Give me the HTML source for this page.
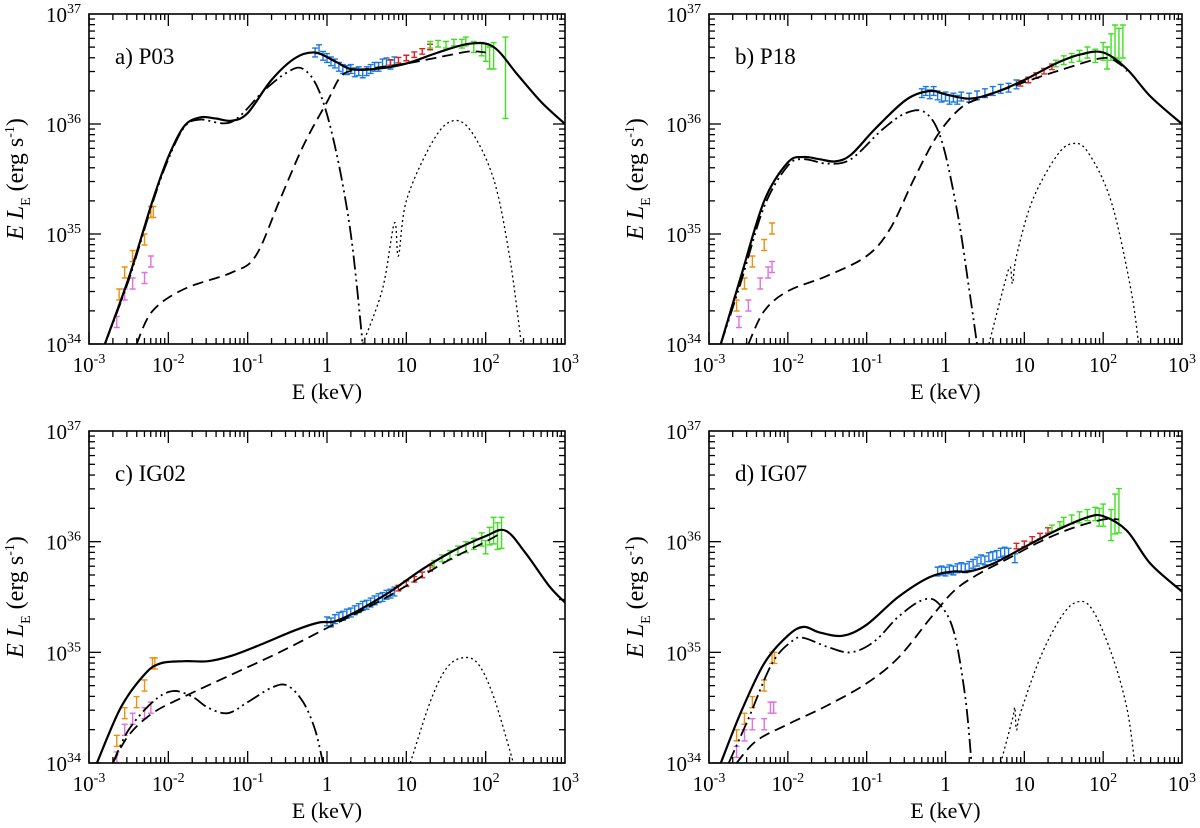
<!DOCTYPE html>
<html><head><meta charset="utf-8">
<style>
html,body{margin:0;padding:0;background:#fff;}
svg{display:block;font-family:"Liberation Serif",serif;}
text{font-family:"Liberation Serif",serif;}
</style></head>
<body>
<svg id="fig" width="1200" height="828" viewBox="0 0 1200 828" font-family="Liberation Serif, serif" xmlns="http://www.w3.org/2000/svg"></svg>
<script>
// ---------- data (log10 E [keV], log10 E L_E [erg/s]) ----------
const panelLabels = ["a) P03","b) P18","c) IG02","d) IG07"];
const xTickExp = [-3,-2,-1,0,1,2,3];
const xTickText = ["10^-3","10^-2","10^-1","1","10","10^2","10^3"];
const yTickExp = [34,35,36,37];

// Panel a
const aTotal = [[-2.8,34],[-2.5,34.6],[-2.2,35.3],[-2,35.7],[-1.8,35.98],[-1.6,36.06],[-1.4,36.05],[-1.2,36.03],[-1,36.1],[-0.7,36.4],[-0.4,36.6],[-0.15,36.65],[0.1,36.57],[0.3,36.5],[0.6,36.5],[1,36.55],[1.4,36.65],[1.8,36.73],[2.1,36.7],[2.4,36.45],[2.7,36.2],[3,36.0]];
const aDisk = [[-2.8,34],[-2.5,34.58],[-2.2,35.28],[-2,35.68],[-1.8,35.97],[-1.6,36.04],[-1.2,36.02],[-0.8,36.3],[-0.5,36.47],[-0.3,36.5],[-0.1,36.3],[0.1,35.8],[0.3,35],[0.45,34]];
const aComp = [[-2.4,34],[-2.2,34.3],[-1.8,34.5],[-1.2,34.65],[-0.9,34.8],[-0.6,35.3],[-0.3,35.8],[0,36.2],[0.2,36.45],[0.5,36.5],[1,36.55],[1.5,36.62],[1.8,36.66],[2,36.65]];
const aRefl = [[0.45,34],[0.7,34.5],[0.85,35.1],[0.9,34.8],[1.0,35.3],[1.3,35.8],[1.55,36.02],[1.8,35.95],[2.1,35.5],[2.3,34.8],[2.45,34]];
const aOrange = [[-2.62,34.45],[-2.55,34.65],[-2.45,34.8],[-2.3,34.95],[-2.22,35.2],[-2.19,35.2]];
const aMagenta = [[-2.65,34.2],[-2.55,34.45],[-2.45,34.55],[-2.3,34.6],[-2.22,34.75]];
const aBlue = [[-0.15,36.65],[-0.1,36.68],[-0.05,36.62],[0,36.6],[0.05,36.57],[0.1,36.55],[0.15,36.52],[0.2,36.5],[0.25,36.49],[0.3,36.5],[0.35,36.47],[0.4,36.48],[0.45,36.46],[0.5,36.48],[0.55,36.5],[0.6,36.52],[0.65,36.52],[0.7,36.55],[0.75,36.56],[0.8,36.54],[0.85,36.57]];
const aRed = [[0.8,36.56],[0.9,36.58],[1.0,36.6],[1.1,36.63],[1.2,36.66],[1.3,36.7]];
const aGreen = [[1.3,36.72],[1.4,36.73],[1.5,36.72],[1.6,36.74],[1.7,36.73],[1.75,36.75],[1.85,36.7],[1.95,36.68],[2.0,36.65],[2.05,36.6],[2.1,36.62],[2.25,36.42]];
const aGreenErr = [0.03,0.03,0.03,0.03,0.04,0.04,0.05,0.06,0.08,0.1,0.12,0.37];

// Panel b
const bTotal = [[-2.85,34],[-2.6,34.6],[-2.3,35.3],[-2.0,35.65],[-1.8,35.7],[-1.6,35.68],[-1.4,35.66],[-1.2,35.72],[-0.9,35.95],[-0.5,36.22],[-0.2,36.3],[0,36.27],[0.3,36.23],[0.6,36.28],[1,36.4],[1.4,36.55],[1.7,36.63],[2,36.65],[2.3,36.5],[2.6,36.25],[3,36.0]];
const bDisk = [[-2.85,34],[-2.6,34.55],[-2.3,35.25],[-2,35.62],[-1.8,35.68],[-1.5,35.64],[-1.2,35.68],[-0.8,35.95],[-0.5,36.1],[-0.25,36.1],[-0.05,35.85],[0.15,35.2],[0.3,34.5],[0.4,34]];
const bComp = [[-2.5,34],[-2.3,34.3],[-2,34.48],[-1.5,34.62],[-1,34.8],[-0.7,35.05],[-0.4,35.5],[-0.1,35.9],[0.2,36.15],[0.5,36.25],[1,36.38],[1.5,36.5],[2,36.6],[2.2,36.55],[2.3,36.48]];
const bRefl = [[0.55,34],[0.75,34.55],[0.82,34.7],[0.85,34.55],[0.9,34.8],[1.1,35.3],[1.4,35.7],[1.6,35.82],[1.8,35.75],[2.1,35.3],[2.35,34.5],[2.45,34]];
const bOrange = [[-2.65,34.35],[-2.55,34.55],[-2.45,34.75],[-2.3,34.9],[-2.2,35.05]];
const bMagenta = [[-2.62,34.2],[-2.5,34.35],[-2.35,34.55],[-2.25,34.65],[-2.2,34.7]];
const bBlue = [[-0.3,36.28],[-0.25,36.3],[-0.2,36.27],[-0.15,36.3],[-0.1,36.26],[-0.05,36.24],[0,36.25],[0.05,36.22],[0.1,36.24],[0.15,36.22],[0.2,36.25],[0.3,36.24],[0.4,36.26],[0.5,36.28],[0.6,36.3],[0.7,36.32],[0.8,36.33],[0.9,36.36]];
const bRed = [[0.95,36.37],[1.05,36.4],[1.15,36.44],[1.25,36.48],[1.35,36.52]];
const bGreen = [[1.4,36.55],[1.5,36.58],[1.6,36.6],[1.7,36.62],[1.8,36.65],[1.9,36.62],[2.0,36.66],[2.05,36.6],[2.1,36.7],[2.15,36.75],[2.2,36.72],[2.25,36.75]];
const bGreenErr = [0.03,0.04,0.04,0.05,0.05,0.06,0.08,0.1,0.12,0.15,0.15,0.15];

// Panel c
const cTotal = [[-2.9,34],[-2.6,34.5],[-2.3,34.8],[-2.1,34.9],[-1.8,34.92],[-1.5,34.92],[-1.2,34.97],[-0.8,35.08],[-0.4,35.2],[-0.1,35.27],[0.1,35.28],[0.4,35.38],[0.8,35.55],[1.2,35.75],[1.6,35.92],[2,36.05],[2.25,36.1],[2.5,35.9],[2.8,35.6],[3,35.45]];
const cDisk = [[-2.7,34],[-2.5,34.3],[-2.2,34.55],[-1.95,34.65],[-1.7,34.6],[-1.5,34.5],[-1.25,34.45],[-1,34.55],[-0.7,34.68],[-0.5,34.7],[-0.3,34.55],[-0.15,34.3],[-0.05,34]];
const cComp = [[-2.7,34],[-2.5,34.25],[-2.2,34.45],[-1.8,34.6],[-1.2,34.8],[-0.6,35],[0,35.22],[0.5,35.4],[1,35.6],[1.5,35.82],[2,36.0],[2.2,36.08]];
const cRefl = [[1.05,34],[1.3,34.55],[1.5,34.85],[1.7,34.95],[1.9,34.9],[2.1,34.6],[2.35,34]];
const cOrange = [[-2.65,34.2],[-2.55,34.45],[-2.4,34.55],[-2.3,34.7],[-2.2,34.9],[-2.17,34.9]];
const cMagenta = [[-2.65,34.05],[-2.55,34.3],[-2.45,34.4],[-2.3,34.45],[-2.22,34.5]];
const cBlue = [[0,35.28],[0.05,35.27],[0.1,35.3],[0.15,35.32],[0.2,35.33],[0.25,35.35],[0.3,35.36],[0.35,35.38],[0.4,35.4],[0.45,35.42],[0.5,35.43],[0.55,35.45],[0.6,35.47],[0.65,35.49],[0.7,35.5],[0.75,35.52],[0.8,35.53],[0.85,35.55]];
const cRed = [[0.9,35.58],[1.0,35.62],[1.1,35.66],[1.2,35.7],[1.3,35.76]];
const cGreen = [[1.35,35.8],[1.45,35.85],[1.55,35.88],[1.65,35.92],[1.75,35.95],[1.85,35.98],[1.95,36.02],[2.0,35.95],[2.05,36.05],[2.1,36.1],[2.15,36.05],[2.2,36.08]];
const cGreenErr = [0.03,0.03,0.04,0.04,0.05,0.05,0.06,0.06,0.08,0.12,0.12,0.14];

// Panel d
const dTotal = [[-2.85,34],[-2.6,34.45],[-2.3,34.9],[-2,35.15],[-1.8,35.23],[-1.6,35.18],[-1.3,35.15],[-1,35.25],[-0.6,35.5],[-0.2,35.68],[0.1,35.73],[0.3,35.73],[0.6,35.8],[1,35.95],[1.4,36.1],[1.8,36.22],[2,36.23],[2.3,36.1],[2.6,35.8],[3,35.55]];
const dDisk = [[-2.75,34],[-2.5,34.4],[-2.2,34.9],[-1.95,35.1],[-1.8,35.13],[-1.5,35.05],[-1.2,35],[-0.9,35.1],[-0.6,35.32],[-0.3,35.47],[-0.1,35.45],[0.1,35.2],[0.25,34.6],[0.33,34]];
const dComp = [[-2.65,34],[-2.4,34.2],[-2,34.35],[-1.5,34.52],[-1,34.72],[-0.6,34.95],[-0.2,35.3],[0.1,35.55],[0.4,35.7],[0.8,35.85],[1.2,36],[1.6,36.12],[2,36.2],[2.2,36.2]];
const dRefl = [[0.7,34],[0.85,34.4],[0.88,34.5],[0.9,34.3],[0.95,34.45],[1.2,34.95],[1.45,35.3],[1.65,35.45],[1.85,35.4],[2.1,35.0],[2.3,34.5],[2.4,34]];
const dOrange = [[-2.65,34.25],[-2.55,34.4],[-2.45,34.55],[-2.3,34.7],[-2.2,34.95],[-2.17,34.95]];
const dMagenta = [[-2.65,34.1],[-2.55,34.25],[-2.45,34.35],[-2.3,34.35],[-2.22,34.5],[-2.18,34.5]];
const dBlue = [[-0.1,35.73],[-0.05,35.74],[0,35.73],[0.05,35.75],[0.1,35.74],[0.15,35.76],[0.2,35.77],[0.25,35.76],[0.3,35.78],[0.35,35.8],[0.4,35.82],[0.45,35.84],[0.5,35.83],[0.55,35.86],[0.6,35.87],[0.65,35.88],[0.7,35.9],[0.75,35.91],[0.8,35.9],[0.88,35.85]];
const dRed = [[0.9,35.96],[1.0,35.98],[1.1,36.02],[1.2,36.05],[1.3,36.1]];
const dGreen = [[1.35,36.12],[1.45,36.15],[1.5,36.18],[1.6,36.2],[1.7,36.22],[1.8,36.24],[1.9,36.25],[1.95,36.22],[2.0,36.24],[2.1,36.15],[2.15,36.25],[2.2,36.28]];
const dGreenErr = [0.03,0.03,0.04,0.04,0.05,0.05,0.06,0.08,0.1,0.14,0.18,0.2];

const panelData = [
 {total:aTotal,disk:aDisk,comp:aComp,refl:aRefl,orange:aOrange,magenta:aMagenta,blue:aBlue,red:aRed,green:aGreen,gerr:aGreenErr},
 {total:bTotal,disk:bDisk,comp:bComp,refl:bRefl,orange:bOrange,magenta:bMagenta,blue:bBlue,red:bRed,green:bGreen,gerr:bGreenErr},
 {total:cTotal,disk:cDisk,comp:cComp,refl:cRefl,orange:cOrange,magenta:cMagenta,blue:cBlue,red:cRed,green:cGreen,gerr:cGreenErr},
 {total:dTotal,disk:dDisk,comp:dComp,refl:dRefl,orange:dOrange,magenta:dMagenta,blue:dBlue,red:dRed,green:dGreen,gerr:dGreenErr}
];

// ---------- layout ----------
const NS = "http://www.w3.org/2000/svg";
const FONT = "Liberation Serif, serif";
const svg = document.getElementById("fig");
const boxes = [{x0:89,x1:565,y0:14,y1:344},{x0:709,x1:1182,y0:14,y1:344},{x0:89,x1:565,y0:431,y1:763},{x0:709,x1:1182,y0:431,y1:763}];

function el(tag, attrs, parent){ const e=document.createElementNS(NS,tag); for(const k in attrs) e.setAttribute(k,attrs[k]); (parent||svg).appendChild(e); return e; }

function smoothPath(pts){
  if(pts.length<2) return "";
  let d="M"+pts[0][0].toFixed(1)+","+pts[0][1].toFixed(1);
  for(let i=0;i<pts.length-1;i++){
    const p0=pts[i-1]||pts[i], p1=pts[i], p2=pts[i+1], p3=pts[i+2]||p2;
    const c1x=p1[0]+(p2[0]-p0[0])/6, c1y=p1[1]+(p2[1]-p0[1])/6;
    const c2x=p2[0]-(p3[0]-p1[0])/6, c2y=p2[1]-(p3[1]-p1[1])/6;
    d+=" C"+c1x.toFixed(1)+","+c1y.toFixed(1)+" "+c2x.toFixed(1)+","+c2y.toFixed(1)+" "+p2[0].toFixed(1)+","+p2[1].toFixed(1);
  }
  return d;
}

function tickLabel(g, x, y, txt, anchor){
  const t=el("text",{x:x,y:y,"font-size":21,"text-anchor":anchor,fill:"#000","font-family":FONT},g);
  const parts=txt.split("^");
  t.appendChild(document.createTextNode(parts[0]));
  if(parts[1]){ const s=el("tspan",{dy:-9,"font-size":14},t); s.textContent=parts[1]; }
  return t;
}

panelData.forEach((P, idx)=>{
  const b=boxes[idx];
  const sx = v => b.x0 + (v+3)/6*(b.x1-b.x0);
  const sy = v => b.y1 - (v-34)/3*(b.y1-b.y0);
  const g=el("g",{});
  
  
  const clipId="clip"+idx;
  const cp=el("clipPath",{id:clipId},g); el("rect",{x:b.x0,y:b.y0,width:b.x1-b.x0,height:b.y1-b.y0},cp);

  const tg=el("g",{stroke:"#000","stroke-width":1.3},g);
  
  
  for(let e=-3;e<3;e++){ for(let m=1;m<10;m++){ const x=sx(e+Math.log10(m)); const L=m===1?12:6;
    el("line",{x1:x,x2:x,y1:b.y1,y2:b.y1-L},tg); el("line",{x1:x,x2:x,y1:b.y0,y2:b.y0+L},tg);} }
  for(let e=34;e<37;e++){ for(let m=1;m<10;m++){ const y=sy(e+Math.log10(m)); const L=m===1?12:6;
    el("line",{x1:b.x0,x2:b.x0+L,y1:y,y2:y},tg); el("line",{x1:b.x1,x2:b.x1-L,y1:y,y2:y},tg);} }

  xTickExp.forEach((e,i)=>{ const t=tickLabel(g, sx(e), b.y1+28, xTickText[i], "middle");
    
     });
  yTickExp.forEach(e=>{ const t=tickLabel(g, b.x0-8, sy(e)+8, "10^"+e, "end");
    
     });

  const xt=el("text",{x:(b.x0+b.x1)/2,y:b.y1+55,"font-size":22,"text-anchor":"middle","font-family":FONT},g);
  xt.textContent="E (keV)";
  
  
  const cy=(b.y0+b.y1)/2, cx=b.x0-66;
  const yt=el("text",{x:cx,y:cy,"font-size":24,"text-anchor":"middle","font-family":FONT,transform:"rotate(-90 "+cx+" "+cy+")"},g);
  
  
  const t1=el("tspan",{"font-style":"italic"},yt); t1.textContent="E L";
  const t2=el("tspan",{dy:7,"font-size":14},yt); t2.textContent="E";
  const t3=el("tspan",{dy:-7},yt); t3.textContent=" (erg s";
  const t4=el("tspan",{dy:-9,"font-size":14},yt); t4.textContent="-1";
  const t5=el("tspan",{dy:9},yt); t5.textContent=")";

  const pl=el("text",{x:b.x0+26,y:b.y0+50,"font-size":23,"font-family":FONT},g);
  pl.textContent=panelLabels[idx];
  
  

  const dg=el("g",{"clip-path":"url(#"+clipId+")"},g);
  function errSeries(arr, color, errs, defErr, name){
    const sg=el("g",{stroke:color,"stroke-width":1.4,fill:"none"},dg);
    
    
    arr.forEach((p,i)=>{ const er=errs?errs[i]:defErr; const x=sx(p[0]);
      const ya=sy(p[1]+er), yb=sy(p[1]-er);
      const bar=el("path",{d:"M"+x+","+ya+"V"+yb+"M"+(x-3)+","+ya+"h6M"+(x-3)+","+yb+"h6"},sg);
      
      
    });
  }
  errSeries(P.orange,"#f0900a",null,0.05,"optical-orange-points");
  errSeries(P.magenta,"#e070e0",null,0.05,"uv-magenta-points");
  errSeries(P.blue,"#1a78e0",null,0.04,"xray-blue-points");
  errSeries(P.red,"#e02020",null,0.025,"xray-red-points");
  errSeries(P.green,"#40e020",P.gerr,0,"hard-xray-green-points");

  function curve(arr, style, name){
    const pts=arr.map(p=>[sx(p[0]),sy(p[1])]);
    const path=el("path",Object.assign({d:smoothPath(pts),fill:"none",stroke:"#000"},style),dg);
    
    
  }
  curve(P.refl,{"stroke-width":1.3,"stroke-dasharray":"2,3"},"reflection-dotted-curve");
  curve(P.comp,{"stroke-width":1.8,"stroke-dasharray":"11,6"},"comptonization-dashed-curve");
  curve(P.disk,{"stroke-width":1.8,"stroke-dasharray":"14,4,2,4,2,4"},"disk-dash-dot-curve");
  curve(P.total,{"stroke-width":2.2},"total-model-curve");

  const frame=el("rect",{x:b.x0,y:b.y0,width:b.x1-b.x0,height:b.y1-b.y0,fill:"none",stroke:"#000","stroke-width":1.6},g);
  
  
});
</script>
</body></html>
